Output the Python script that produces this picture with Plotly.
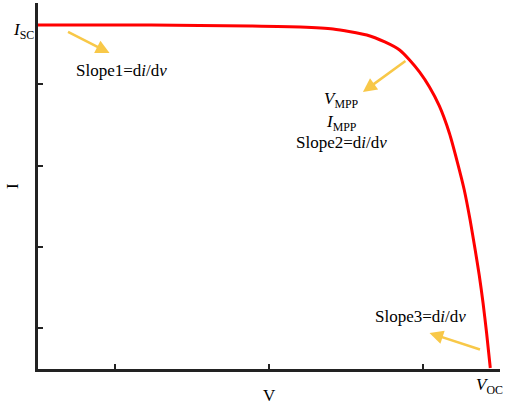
import plotly.graph_objects as go

# I-V curve (V, I in axis units)
volt = [0.000, 0.735, 1.381, 1.703, 1.916, 2.135, 2.252, 2.348, 2.413, 2.477, 2.542,
        2.606, 2.671, 2.723, 2.768, 2.806, 2.839, 2.865, 2.890, 2.913, 2.937]
curr = [4.230, 4.230, 4.217, 4.205, 4.181, 4.107, 4.021, 3.922, 3.799, 3.652, 3.467,
        3.234, 2.902, 2.545, 2.201, 1.832, 1.463, 1.156, 0.812, 0.443, 0.012]

x_ticks = [0.5, 1.5, 2.5, 3.0]
y_ticks = [0.5, 1.5, 2.5, 3.5]

slope_labels = ["Slope1=d<i>i</i>/d<i>v</i>", "Slope2=d<i>i</i>/d<i>v</i>", "Slope3=d<i>i</i>/d<i>v</i>"]

FONT = "Liberation Serif, Times New Roman, serif"
RED = "#ff0000"
GOLD = "#f8c848"
AX = "#222222"

fig = go.Figure()
fig.add_trace(go.Scatter(x=volt, y=curr, mode="lines", line=dict(color=RED, width=3, shape="spline", smoothing=0.6),
                         hoverinfo="skip", showlegend=False))

ann = []
# arrows: head in data coords, tail as pixel offset
for hx, hy, ax, ay in [(0.4645, 3.885, -43, -22), (2.110, 3.406, 44, -32), (2.542, 0.443, 52, 17)]:
    ann.append(dict(x=hx, y=hy, ax=ax, ay=ay, text="", showarrow=True, arrowhead=2,
                    arrowsize=1.1, arrowwidth=2.5, arrowcolor=GOLD))

def label(x, y, text, size=17, **kw):
    d = dict(x=x, y=y, text=text, showarrow=False, font=dict(family=FONT, size=size, color="black"))
    d.update(kw)
    ann.append(d)

label(0.542, 3.676, slope_labels[0])
label(1.97, 3.31, "<i>V</i><sub>MPP</sub>")
label(1.97, 3.03, "<i>I</i><sub>MPP</sub>")
label(1.97, 2.78, slope_labels[1])
label(2.485, 0.64, slope_labels[2])
label(0, 4.23, "<i>I</i><sub>SC</sub>", xanchor="right", xshift=-2, yshift=-6)
label(2.935, 0, "<i>V</i><sub>OC</sub>", yshift=-17)
label(1.5, 0, "V", yshift=-26)
label(0, 2.25, "I", textangle=-90, xshift=-26)

fig.update_layout(
    width=505, height=404,
    margin=dict(l=38, r=5, t=3, b=35),
    plot_bgcolor="white", paper_bgcolor="white",
    annotations=ann,
    xaxis=dict(range=[0, 3], showline=True, linewidth=3, linecolor=AX, showgrid=False,
               zeroline=False, ticks="inside", ticklen=5, tickwidth=2, tickcolor=AX,
               tickvals=x_ticks, showticklabels=False),
    yaxis=dict(range=[0, 4.5], showline=True, linewidth=3, linecolor=AX, showgrid=False,
               zeroline=False, ticks="inside", ticklen=5, tickwidth=2, tickcolor=AX,
               tickvals=y_ticks, showticklabels=False),
)

# page body has a default 8px margin; drop it so the figure sits at the window corner
fig.write_html("out.html", config={"displayModeBar": False},
               post_script="document.body.style.margin='0';")
